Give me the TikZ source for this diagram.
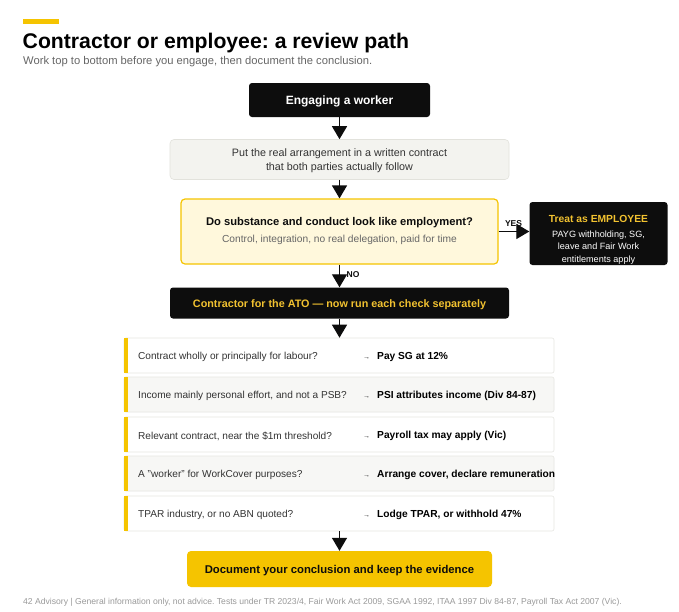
\documentclass[tikz,border=0pt]{standalone}
\usepackage{fontspec}
\setmainfont{Liberation Sans}
\usetikzlibrary{arrows.meta}
\frenchspacing
\definecolor{ink}{HTML}{0D0D0D}
\definecolor{gold}{HTML}{F5C400}
\definecolor{goldtext}{HTML}{F2C230}
\definecolor{paper}{HTML}{F3F3EF}
\definecolor{paperline}{HTML}{E2E2DC}
\definecolor{cream}{HTML}{FFF8DC}
\definecolor{rowalt}{HTML}{F7F7F5}
\definecolor{rowline}{HTML}{E6E6E2}
\definecolor{qgray}{HTML}{333333}
\definecolor{subgray}{HTML}{666666}
\definecolor{footgray}{HTML}{9A9A9A}
\begin{document}
\begin{tikzpicture}[x=1pt,y=-1pt,
  blackbox/.style={draw=none, fill=ink, rounded corners=3pt, inner sep=0pt},
  graybox/.style={draw=paperline, fill=paper, rounded corners=4pt, inner sep=0pt, line width=0.6pt},
  qbox/.style={draw=gold, fill=cream, rounded corners=4pt, inner sep=0pt, line width=1.2pt},
  rowbox/.style={draw=rowline, rounded corners=2pt, inner sep=0pt, line width=0.6pt, minimum width=430, minimum height=35},
  endbox/.style={draw=none, fill=gold, rounded corners=4pt, inner sep=0pt},
  txt/.style={inner sep=0pt, yshift=-1.5pt},
  qtext/.style={txt, anchor=west, text=qgray, font=\fontsize{10.1}{12}\selectfont},
  atext/.style={txt, anchor=west, text=black, font=\bfseries\fontsize{10.2}{12}\selectfont},
  arrtext/.style={txt, anchor=west, text=qgray, font=\fontsize{7}{9}\selectfont},
  flow/.style={draw=ink, line width=1.3pt, -{Triangle[width=15pt,length=13pt]}},
  lbl/.style={inner sep=0pt, font=\bfseries\fontsize{8.5}{10}\selectfont, text=ink}
]
\useasboundingbox (0,0) rectangle (679,611);
\fill[white] (0,0) rectangle (679,611);

% header
\fill[gold] (23,19) rectangle (59,24);
\node[anchor=base west, inner sep=0pt, font=\bfseries\fontsize{21.2}{25}\selectfont] (title) at (22.5,48) {Contractor or employee: a review path};
\node[anchor=base west, inner sep=0pt, text=subgray, font=\fontsize{11.2}{13}\selectfont] (subtitle) at (23,64.5) {Work top to bottom before you engage, then document the conclusion.};

% main flow
\node[blackbox, minimum width=181, minimum height=34] (engage) at (339.5,100) {};
\node[txt, text=white, font=\bfseries\fontsize{12}{14}\selectfont] (engaget) at (339.5,100) {Engaging a worker};
\node[graybox, minimum width=339, minimum height=40] (put) at (339.5,159.5) {};
\node[txt, align=center, text=qgray, font=\fontsize{10.75}{14}\selectfont] (putt) at (339.5,159.5) {Put the real arrangement in a written contract\\that both parties actually follow};
\node[qbox, minimum width=317, minimum height=65] (q) at (339.5,231.5) {};
\node[txt, font=\bfseries\fontsize{11.2}{13}\selectfont, text=ink] (qt) at (339.5,221) {Do substance and conduct look like employment?};
\node[txt, font=\fontsize{10.2}{12}\selectfont, text=subgray] (qs) at (339.5,238.5) {Control, integration, no real delegation, paid for time};

\node[blackbox, minimum width=138, minimum height=63] (emp) at (598.5,233.5) {};
\node[txt, text=goldtext, font=\bfseries\fontsize{10.3}{12}\selectfont] (empt) at (598.5,217.5) {Treat as EMPLOYEE};
\node[txt, align=center, text=white, font=\fontsize{9.1}{12.5}\selectfont] (empb) at (598.5,246) {PAYG withholding, SG,\\leave and Fair Work\\entitlements apply};

\node[blackbox, minimum width=339, minimum height=31] (contr) at (339.5,303) {};
\node[txt, text=goldtext, font=\bfseries\fontsize{10.8}{13}\selectfont] (contrt) at (339.5,303) {Contractor for the ATO --- now run each check separately};

% check rows
\node[rowbox, fill=white]  (r1) at (339,355.5) {};
\node[rowbox, fill=rowalt] (r2) at (339,394.5) {};
\node[rowbox, fill=white]  (r3) at (339,434.5) {};
\node[rowbox, fill=rowalt] (r4) at (339,473.5) {};
\node[rowbox, fill=white]  (r5) at (339,513.5) {};
\foreach \r in {r1,r2,r3,r4,r5}{
  \fill[gold] (\r.north west) rectangle ([xshift=4pt]\r.south west);
}
\node[qtext] (q1) at (138,355.5) {Contract wholly or principally for labour?};
\node[qtext] (q2) at (138,394.5) {Income mainly personal effort, and not a PSB?};
\node[qtext] (q3) at (138,434.5) {Relevant contract, near the \$1m threshold?};
\node[qtext] (q4) at (138,473.5) {A "worker" for WorkCover purposes?};
\node[qtext] (q5) at (138,513.5) {TPAR industry, or no ABN quoted?};
\node[arrtext] (g1) at (363,356.5) {→};
\node[arrtext] (g2) at (363,395.5) {→};
\node[arrtext] (g3) at (363,435.5) {→};
\node[arrtext] (g4) at (363,474.5) {→};
\node[arrtext] (g5) at (363,514.5) {→};
\node[atext] (a1) at (377,355.5) {Pay SG at 12\%};
\node[atext] (a2) at (377,394.5) {PSI attributes income (Div 84-87)};
\node[atext] (a3) at (377,434.5) {Payroll tax may apply (Vic)};
\node[atext] (a4) at (377,473.5) {Arrange cover, declare remuneration};
\node[atext] (a5) at (377,513.5) {Lodge TPAR, or withhold 47\%};

\node[endbox, minimum width=305, minimum height=36] (doc) at (339.5,569) {};
\node[txt, text=ink, font=\bfseries\fontsize{11.3}{14}\selectfont] (doct) at (339.5,569) {Document your conclusion and keep the evidence};

% connectors
\draw[flow] (engage.south) -- (put.north);
\draw[flow] (put.south) -- (q.north);
\draw[flow] (q.east) -- (q.east -| emp.west);
\draw[flow] (q.south) -- (contr.north);
\draw[flow] (contr.south) -- (r1.north -| contr.south);
\draw[flow] (r5.south -| doc.north) -- (doc.north);
\node[lbl] (yes) at (513.5,223.5) {YES};
\node[lbl] (no) at (353,274.5) {NO};

% footer
\node[anchor=base west, inner sep=0pt, text=footgray, font=\fontsize{8.6}{10}\selectfont] (foot) at (23,604) {42 Advisory | General information only, not advice. Tests under TR 2023/4, Fair Work Act 2009, SGAA 1992, ITAA 1997 Div 84-87, Payroll Tax Act 2007 (Vic).};
\end{tikzpicture}
\end{document}
